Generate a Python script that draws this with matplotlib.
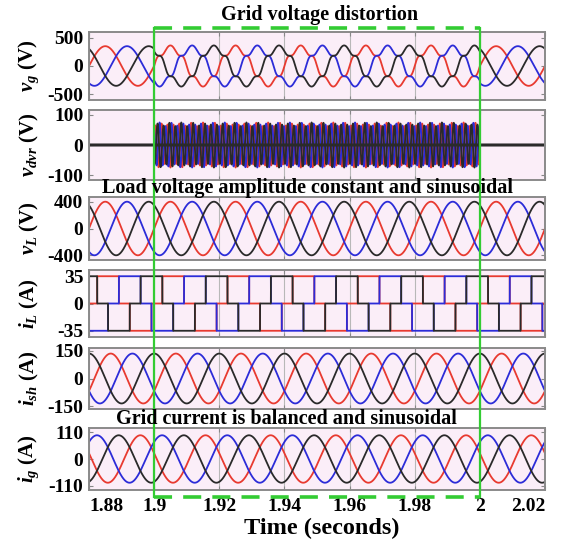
import numpy as np
import matplotlib
matplotlib.use('Agg')
import matplotlib.pyplot as plt
from matplotlib.lines import Line2D
from matplotlib.transforms import blended_transform_factory

# ---------------- data ----------------
x_ticks = [1.88, 1.90, 1.92, 1.94, 1.96, 1.98, 2.00, 2.02]
x_tick_labels = ['1.88', '1.9', '1.92', '1.94', '1.96', '1.98', '2', '2.02']
t_start, t_end = 1.88, 2.02
f_grid = 50.0                       # Hz
event_start, event_end = 1.90, 2.00  # distortion interval (s)

phase_colors = ['#e83a30', '#2c2cd8', '#2a2a2a']   # phase a, b, c
phase_shift_deg = [0, -120, 120]

# grid voltage
vg_amp = 350
vg_phase_deg = 0
vg_dist_fund = 330
vg_h5_amp = 45
vg_h7_amp = 12
# DVR injected voltage (dense compensating band)
vdvr_order = 11
vdvr_amp = 68
vdvr_h5_amp = 6
# load voltage
vL_amp = 400
vL_phase_deg = 0
# load current (six-step, rectifier load)
iL_level = 35
iL_center_deg = 105
# shunt current
ish_amp = 135
ish_phase_deg = -30
# grid current
ig_amp = 98
ig_phase_deg = 166

panel_ylabels = [r'$v_g$ (V)', r'$v_{dvr}$ (V)', r'$v_L$ (V)',
                 r'$i_L$ (A)', r'$i_{sh}$ (A)', r'$i_g$ (A)']
panel_yticks = [[-500, 0, 500], [-100, 0, 100], [-400, 0, 400],
                [-35, 0, 35], [-150, 0, 150], [-110, 0, 110]]
panel_ylims = [(-600, 600), (-115, 115), (-470, 470),
               (-43, 43), (-165, 165), (-128, 128)]
titles = ['Grid voltage distortion',
          'Load voltage amplitude constant and sinusoidal',
          'Grid current is balanced and sinusoidal']

# ---------------- style ----------------
plt.rcParams['font.family'] = ['Liberation Serif', 'DejaVu Serif']
plt.rcParams['font.weight'] = 'bold'
plt.rcParams['mathtext.fontset'] = 'custom'
plt.rcParams['mathtext.it'] = 'Liberation Serif:italic:bold'
plt.rcParams['mathtext.rm'] = 'Liberation Serif:bold'
plt.rcParams['mathtext.bf'] = 'Liberation Serif:bold'
plt.rcParams['lines.scale_dashes'] = False

W, H = 563, 544
fig = plt.figure(figsize=(W / 100, H / 100), dpi=100)

# panel boxes in pixels (top, bottom)
boxes = [(32, 100), (110, 180), (197, 260), (270, 337), (348, 409), (428, 490)]
left_px, right_px = 89, 545

t = np.linspace(t_start, t_end, 28001)
w = 2 * np.pi * f_grid
theta = w * (t - t_start)
in_event = (t >= event_start) & (t <= event_end)


def ph(k, deg):
    return theta + np.deg2rad(deg + phase_shift_deg[k])


def series(panel, k):
    if panel == 0:
        th = ph(k, vg_phase_deg)
        normal = vg_amp * np.sin(th)
        dist = vg_dist_fund * np.sin(th) + vg_h5_amp * np.sin(5 * th) + vg_h7_amp * np.sin(7 * th)
        return np.where(in_event, dist, normal)
    if panel == 1:
        th = ph(k, vg_phase_deg)
        inj = vdvr_amp * np.sin(vdvr_order * th) - vdvr_h5_amp * np.sin(5 * th)
        return np.where(in_event, inj, 0.0)
    if panel == 2:
        return vL_amp * np.sin(ph(k, vL_phase_deg))
    if panel == 3:
        c = np.cos(theta - np.deg2rad(iL_center_deg) + np.deg2rad(phase_shift_deg[k]))
        return iL_level * (c > 0.5) - iL_level * (c < -0.5)
    if panel == 4:
        return ish_amp * np.sin(ph(k, ish_phase_deg))
    return ig_amp * np.sin(ph(k, ig_phase_deg))


axes = []
for p, (top, bot) in enumerate(boxes):
    ax = fig.add_axes([left_px / W, 1 - bot / H, (right_px - left_px) / W, (bot - top) / H])
    ax.set_facecolor('#fbeef8')
    for k in [0, 1, 2]:
        ax.plot(t, series(p, k), color=phase_colors[k], lw=1.3)
    if p == 1:
        y = series(1, 2)
        ax.plot(t[~in_event], y[~in_event], color=phase_colors[2], lw=2.2)
    ax.set_xlim(t_start, t_end)
    ax.set_ylim(*panel_ylims[p])
    ax.set_yticks(panel_yticks[p])
    ax.set_yticklabels([str(v) for v in panel_yticks[p]])
    ax.set_xticks(x_ticks)
    if p == len(boxes) - 1:
        labs = ax.set_xticklabels(x_tick_labels)
        labs[0].set_ha('left')
        labs[0].set_x(x_ticks[0] - 0.0013)
        labs[-1].set_ha('right')
    else:
        ax.set_xticklabels([])
    ax.grid(True, axis='x', color='#b8b8b8', lw=0.8)
    ax.tick_params(direction='in', length=3, color='#888888', labelsize=14, pad=4,
                   top=True, right=True)
    ax.tick_params(axis='x', pad=6)
    for s in ax.spines.values():
        s.set_color('#8a8a8a')
        s.set_linewidth(1.4)
    fig.text(29 / W, 1 - (top + bot) / 2 / H, panel_ylabels[p], rotation=90,
             ha='center', va='center', fontsize=15, fontweight='bold')
    axes.append(ax)

fig.text(322 / W, 1 - 528 / H, 'Time (seconds)', ha='center', va='center',
         fontsize=17.5, fontweight='bold')

# titles
fig.text(320 / W, 1 - 15 / H, titles[0], ha='center', va='center', fontsize=14.5, fontweight='bold')
fig.text(307 / W, 1 - 188 / H, titles[1], ha='center', va='center', fontsize=14.5, fontweight='bold')
fig.text(286 / W, 1 - 419 / H, titles[2], ha='center', va='center', fontsize=14.5, fontweight='bold')

# green dashed event box
tr = blended_transform_factory(axes[-1].transData, fig.transFigure)
green = '#33cc33'
y_top = 1 - 28 / H
y_bot = 1 - 497 / H
for xv in (event_start, event_end):
    fig.add_artist(Line2D([xv, xv], [y_bot, y_top], transform=tr, color=green, lw=1.6))
for yv in (y_top, y_bot):
    fig.add_artist(Line2D([event_start, event_end], [yv, yv], transform=tr, color=green,
                          lw=2.6, dashes=(13, 8)))

fig.savefig('out.png', dpi=100)
